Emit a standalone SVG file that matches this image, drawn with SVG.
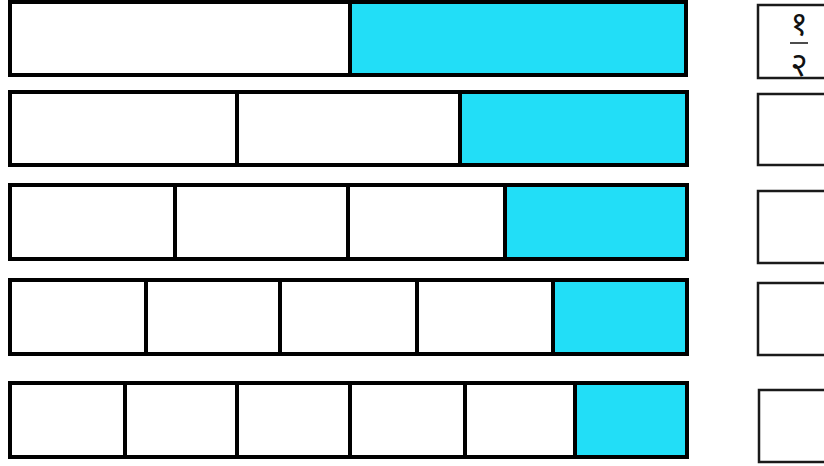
<svg xmlns="http://www.w3.org/2000/svg" width="824" height="466" viewBox="0 0 824 466">
<style>
.cell{fill:#fff;stroke:#000;stroke-width:4}
.sh{fill:#22DEF7;stroke:#000;stroke-width:4}
.box{fill:#fff;stroke:#1a1a1a;stroke-width:2.5}
.d{font-family:"Noto Sans","Noto Sans Devanagari","Liberation Sans",sans-serif;font-size:33px;fill:#111;text-anchor:middle}
</style>
<rect width="824" height="466" fill="#fff"/>
<g id="row1">
<rect class="cell" x="10" y="2" width="340" height="73"/>
<rect class="sh" x="350" y="2" width="336" height="73"/>
</g>
<g id="row2">
<rect class="cell" x="10" y="92" width="227" height="73"/>
<rect class="cell" x="237" y="92" width="223" height="73"/>
<rect class="sh" x="460" y="92" width="227" height="73"/>
</g>
<g id="row3">
<rect class="cell" x="10" y="185" width="165" height="74"/>
<rect class="cell" x="175" y="185" width="173" height="74"/>
<rect class="cell" x="348" y="185" width="157" height="74"/>
<rect class="sh" x="505" y="185" width="182" height="74"/>
</g>
<g id="row4">
<rect class="cell" x="10" y="280" width="136" height="74"/>
<rect class="cell" x="146" y="280" width="134" height="74"/>
<rect class="cell" x="280" y="280" width="137" height="74"/>
<rect class="cell" x="417" y="280" width="136" height="74"/>
<rect class="sh" x="553" y="280" width="134" height="74"/>
</g>
<g id="row5">
<rect class="cell" x="10" y="383" width="115" height="74"/>
<rect class="cell" x="125" y="383" width="112" height="74"/>
<rect class="cell" x="237" y="383" width="113" height="74"/>
<rect class="cell" x="350" y="383" width="115" height="74"/>
<rect class="cell" x="465" y="383" width="110" height="74"/>
<rect class="sh" x="575" y="383" width="112" height="74"/>
</g>
<g id="box1">
<rect class="box" x="758" y="5" width="80" height="73"/>
<text class="d" x="799" y="35">१</text>
<line x1="790" y1="43" x2="808" y2="43" stroke="#111" stroke-width="1.5"/>
<text class="d" x="799" y="76">२</text>
</g>
<g id="box2"><rect class="box" x="758" y="94" width="80" height="71"/></g>
<g id="box3"><rect class="box" x="758" y="191" width="80" height="72"/></g>
<g id="box4"><rect class="box" x="758" y="283" width="80" height="72"/></g>
<g id="box5"><rect class="box" x="759" y="390" width="80" height="72"/></g>
<g id="connectors"></g>
</svg>
